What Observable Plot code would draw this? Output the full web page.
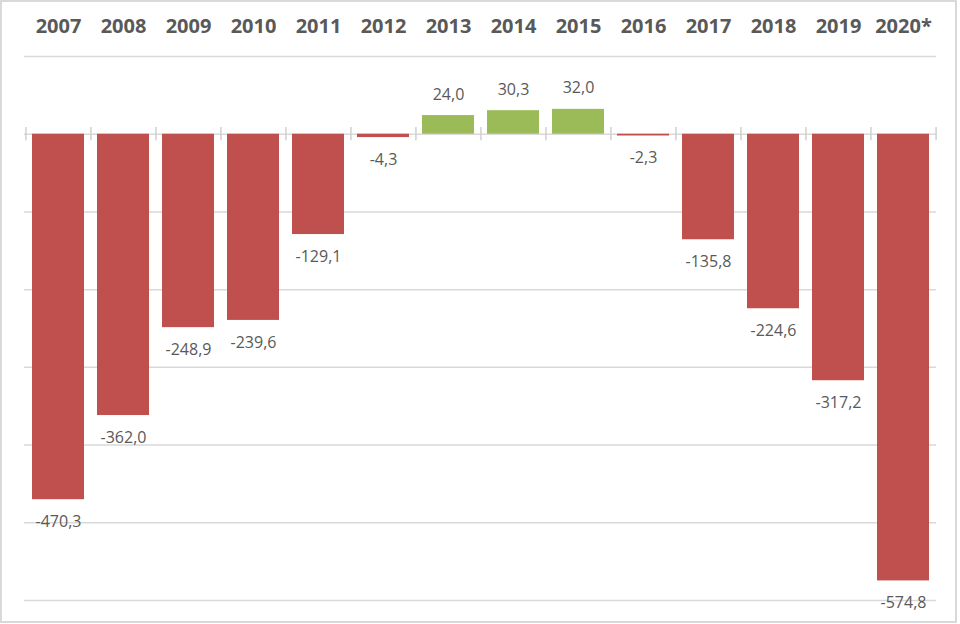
<!DOCTYPE html>
<html>
<head>
<meta charset="utf-8">
<script src="https://cdn.jsdelivr.net/npm/d3@7"></script>
<script src="https://cdn.jsdelivr.net/npm/@observablehq/plot@0.6"></script>
<style>
  html, body { margin: 0; padding: 0; background: #fff; }
  #wrap { position: relative; width: 960px; height: 624px; }
  #border { position: absolute; left: 0; top: 0; width: 957px; height: 623px; box-sizing: border-box; border: 2px solid #d9d9d9; pointer-events: none; }
  g[aria-label="x-axis tick label"] text { font-weight: bold; }
</style>
</head>
<body>
<div id="wrap"><div id="border"></div></div>
<script>
const years = ["2007","2008","2009","2010","2011","2012","2013","2014","2015","2016","2017","2018","2019","2020*"];
const values = [-470.3, -362.0, -248.9, -239.6, -129.1, -4.3, 24.0, 30.3, 32.0, -2.3, -135.8, -224.6, -317.2, -574.8];
const gridTicks = [-600, -500, -400, -300, -200, -100, 0, 100];

const data = years.map((y, i) => ({year: y, value: values[i]}));
const pos = data.filter(d => d.value >= 0);
const neg = data.filter(d => d.value < 0);
const fmt = v => v.toFixed(1).replace(".", ",");
const W = 960, H = 624, mL = 24, mR = 24;
const step = (W - mL - mR) / years.length;

const chart = Plot.plot({
  width: W,
  height: H,
  marginTop: 56,
  marginBottom: 24,
  marginLeft: mL,
  marginRight: mR,
  style: {fontFamily: "'Open Sans', sans-serif", color: "#595959", background: "transparent"},
  x: {domain: years, paddingInner: 0.2, paddingOuter: 0.1, axis: null},
  y: {domain: [-600, 100], axis: null},
  marks: [
    Plot.ruleY(gridTicks, {stroke: "#d9d9d9", strokeWidth: 1.5}),
    Plot.ruleX(years, {x: d => d, dx: -step / 2, y1: -8.5, y2: 8.5, stroke: "#d0d0d0", strokeWidth: 1.5}),
    Plot.ruleX([years[years.length - 1]], {x: d => d, dx: step / 2, y1: -8.5, y2: 8.5, stroke: "#d0d0d0", strokeWidth: 1.5}),
    Plot.barY(data, {x: "year", y: "value", fill: d => d.value >= 0 ? "#9BBB59" : "#C0504D"}),
    Plot.text(neg, {x: "year", y: "value", text: d => fmt(d.value), dy: 22, fill: "#595959", fontSize: 16}),
    Plot.text(pos, {x: "year", y: "value", text: d => fmt(d.value), dy: -21, fill: "#595959", fontSize: 16}),
    Plot.axisX({anchor: "top", tickSize: 0, tickPadding: 24, fontSize: 20, fontWeight: "bold", fill: "#595959", label: null})
  ]
});
document.getElementById("wrap").appendChild(chart);
</script>
</body>
</html>
